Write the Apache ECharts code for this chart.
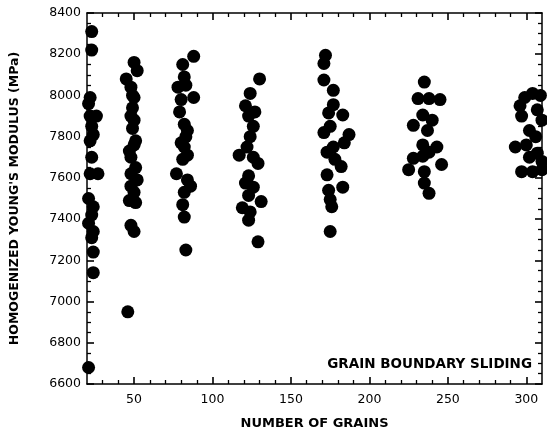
<!DOCTYPE html>
<html>
<head>
<meta charset="utf-8">
<script src="https://cdn.jsdelivr.net/npm/echarts@6/dist/echarts.min.js"></script>
<style>
  html, body { margin: 0; padding: 0; background: #fff; }
  #chart { width: 547px; height: 435px; }
</style>
</head>
<body>
<div id="chart"></div>
<script>
// Homogenized Young's modulus vs. number of grains, grain boundary sliding.
// Each group is [number of grains, modulus in MPa].
const groupN22 = [
  [23, 8310], [23, 8220], [22, 7990], [21, 7960], [22, 7900], [26, 7900],
  [23, 7850], [24, 7810], [22, 7780], [23, 7700], [22, 7620], [27, 7620],
  [21, 7500], [24, 7460], [23, 7420], [21, 7380], [24, 7340], [23, 7310],
  [24, 7240], [24, 7140], [21, 6680]
];
const groupN48 = [
  [50, 8160], [52, 8120], [45, 8080], [48, 8040], [49, 8000], [50, 7990],
  [49, 7940], [48, 7900], [50, 7880], [49, 7840], [51, 7780], [50, 7760],
  [47, 7730], [48, 7700], [51, 7650], [48, 7620], [52, 7590], [48, 7560],
  [50, 7530], [47, 7490], [51, 7480], [48, 7370], [50, 7340], [46, 6950]
];
const groupN82 = [
  [88, 8190], [81, 8150], [82, 8090], [78, 8040], [83, 8050], [88, 7990],
  [80, 7980], [79, 7920], [82, 7860], [84, 7830], [83, 7800], [80, 7770],
  [82, 7750], [84, 7710], [81, 7690], [77, 7620], [84, 7590], [86, 7560],
  [82, 7530], [81, 7470], [82, 7410], [83, 7250]
];
const groupN125 = [
  [130, 8080], [124, 8010], [121, 7950], [127, 7920], [123, 7900], [126, 7850],
  [124, 7800], [122, 7750], [117, 7710], [126, 7700], [129, 7670], [123, 7610],
  [121, 7575], [126, 7555], [123, 7515], [131, 7485], [119, 7455], [124, 7435],
  [123, 7395], [129, 7290]
];
const groupN176 = [
  [172, 8195], [171, 8155], [171, 8075], [177, 8025], [177, 7955], [174, 7915],
  [183, 7905], [175, 7850], [171, 7820], [187, 7810], [184, 7770], [177, 7750],
  [173, 7725], [178, 7690], [182, 7655], [173, 7615], [183, 7555], [174, 7540],
  [175, 7495], [176, 7460], [175, 7340]
];
const groupN235 = [
  [235, 8065], [231, 7985], [238, 7985], [245, 7980], [234, 7905], [228, 7855],
  [240, 7880], [237, 7830], [234, 7760], [243, 7750], [238, 7725], [228, 7695],
  [234, 7705], [246, 7665], [225, 7640], [235, 7630], [235, 7575], [238, 7525]
];
const groupN302 = [
  [299, 7990], [304, 8010], [309, 8000], [296, 7950], [307, 7930], [297, 7900],
  [310, 7880], [302, 7830], [306, 7800], [293, 7750], [300, 7760], [307, 7720],
  [310, 7680], [297, 7630], [304, 7630], [310, 7640], [302, 7700]
];

const xMajorTicks = [50, 100, 150, 200, 250, 300];
const xMinorTicks = [30, 40, 60, 70, 80, 90, 110, 120, 130, 140, 160, 170, 180, 190,
  210, 220, 230, 240, 260, 270, 280, 290];
const yTicks = [6600, 6800, 7000, 7200, 7400, 7600, 7800, 8000, 8200, 8400];

const FONT = 'DejaVu Sans';
const ink = '#000';

const chart = echarts.init(document.getElementById('chart'), null, { renderer: 'canvas' });

// x axes: one carries the line, labels and long ticks; a twin carries the short ticks
const xMain = (pos) => ({
  type: 'value', position: pos, min: 20, max: 310,
  axisLine: { show: true, onZero: false, lineStyle: { color: ink, width: 1.5 } },
  axisTick: { show: true, inside: true, length: 7, customValues: xMajorTicks, lineStyle: { color: ink, width: 1.6 } },
  axisLabel: {
    show: pos === 'bottom', customValues: xMajorTicks, margin: 9,
    color: ink, fontFamily: FONT, fontSize: 12.5
  },
  splitLine: { show: false }
});
const xMinor = (pos) => ({
  type: 'value', position: pos, min: 20, max: 310,
  axisLine: { show: false, onZero: false },
  axisTick: { show: true, inside: true, length: 4, customValues: xMinorTicks, lineStyle: { color: ink, width: 1.3 } },
  axisLabel: { show: false },
  splitLine: { show: false }
});
const yAxisDef = (pos) => ({
  type: 'value', position: pos, min: yTicks[0], max: yTicks[yTicks.length - 1], interval: 200,
  axisLine: { show: true, onZero: false, lineStyle: { color: ink, width: 1.5 } },
  axisTick: { show: true, inside: true, length: 7, lineStyle: { color: ink, width: 1.6 } },
  minorTick: { show: true, splitNumber: 4, length: 4, lineStyle: { color: ink, width: 1.3 } },
  axisLabel: { show: pos === 'left', margin: 6, color: ink, fontFamily: FONT, fontSize: 12.5, formatter: v => String(v) },
  splitLine: { show: false }
});

const xBottom = Object.assign(xMain('bottom'), {
  name: 'NUMBER OF GRAINS', nameLocation: 'middle', nameGap: 33,
  nameTextStyle: { color: ink, fontFamily: FONT, fontWeight: 'bold', fontSize: 13 }
});
const yLeft = Object.assign(yAxisDef('left'), {
  name: "HOMOGENIZED YOUNG'S MODULUS (MPa)", nameLocation: 'middle', nameGap: 66, nameRotate: 90,
  nameTextStyle: { color: ink, fontFamily: FONT, fontWeight: 'bold', fontSize: 12.5 }
});

const allPoints = [].concat(groupN22, groupN48, groupN82, groupN125, groupN176, groupN235, groupN302);

chart.setOption({
  animation: false,
  backgroundColor: '#fff',
  grid: { left: 86, right: 5, top: 13, bottom: 51, containLabel: false },
  xAxis: [xBottom, xMinor('bottom'), xMain('top'), xMinor('top')],
  yAxis: [yLeft, yAxisDef('right')],
  graphic: [{
    type: 'text', right: 15, top: 357,
    style: { text: 'GRAIN BOUNDARY SLIDING', fill: ink, fontFamily: FONT, fontWeight: 'bold', fontSize: 13.5 }
  }],
  series: [{
    type: 'scatter', xAxisIndex: 0, yAxisIndex: 0,
    symbol: 'circle', symbolSize: 13,
    itemStyle: { color: ink, opacity: 1 },
    data: allPoints
  }]
});
</script>
</body>
</html>
